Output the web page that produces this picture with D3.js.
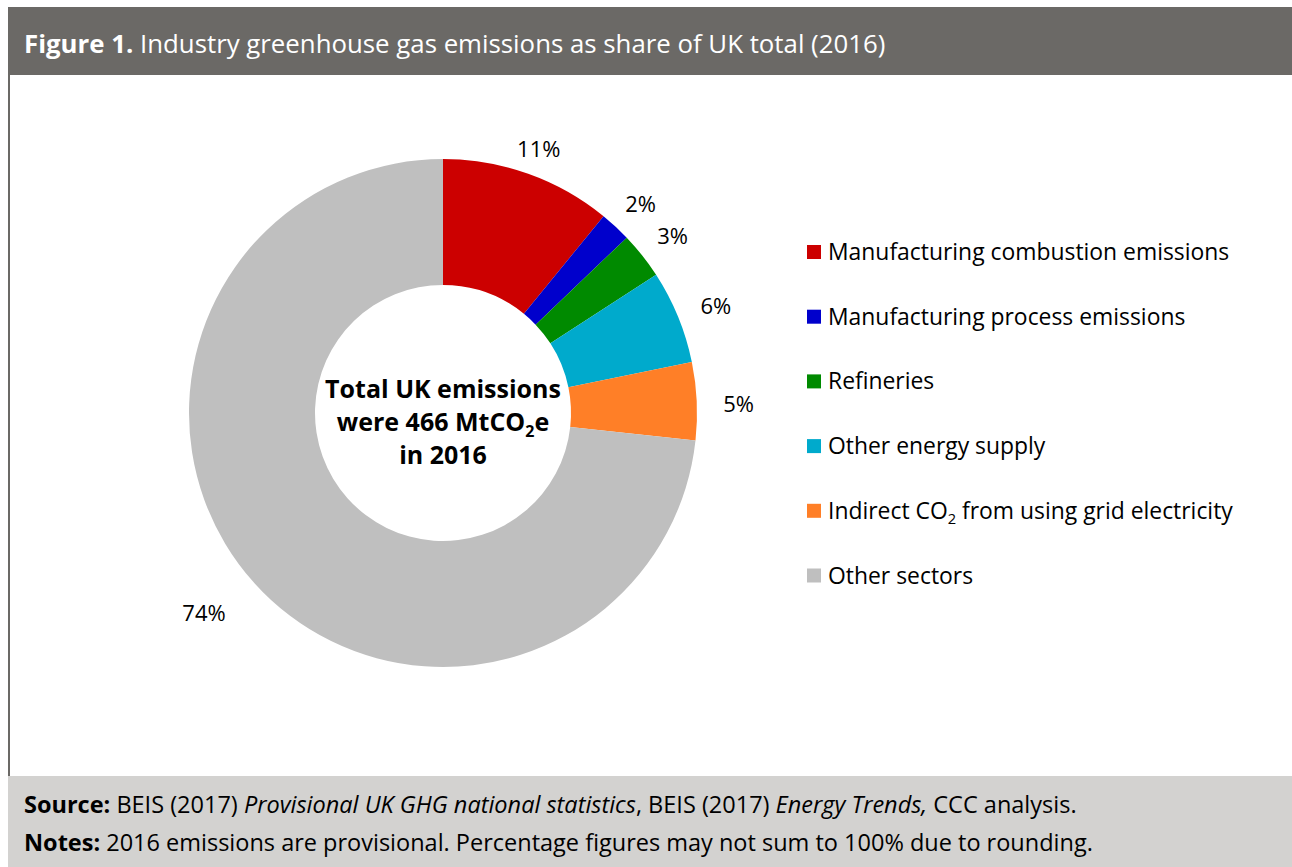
<!DOCTYPE html>
<html>
<head>
<meta charset="utf-8">
<script src="https://cdn.jsdelivr.net/npm/d3@7"></script>
<style>
  body { margin: 0; background: #fff; }
  svg text { font-family: "Open Sans", "Noto Sans", sans-serif; }
</style>
</head>
<body>
<svg id="chart" width="1292" height="867"></svg>
<script>
// Sector shares of total UK greenhouse gas emissions, 2016 (%)
const categories = [
  "Manufacturing combustion emissions",
  "Manufacturing process emissions",
  "Refineries",
  "Other energy supply",
  "Indirect CO2 from using grid electricity",
  "Other sectors"
];
const shares = [11, 2, 3, 6, 5, 74];
const sliceColors = ["#cc0000", "#0000cc", "#008a00", "#00aacc", "#ff7f27", "#bfbfbf"];

const titleBold = "Figure 1.";
const titleRest = " Industry greenhouse gas emissions as share of UK total (2016)";
const centreLines = ["Total UK emissions", "were 466 MtCO2e", "in 2016"];
const sourceLine = [
  { t: "Source:", s: "bold" }, { t: " BEIS (2017) ", s: "normal" },
  { t: "Provisional UK GHG national statistics", s: "italic" }, { t: ", BEIS (2017) ", s: "normal" },
  { t: "Energy Trends,", s: "italic" }, { t: " CCC analysis.", s: "normal" }
];
const notesLine = [
  { t: "Notes:", s: "bold" },
  { t: " 2016 emissions are provisional. Percentage figures may not sum to 100% due to rounding.", s: "normal" }
];

const svg = d3.select("#chart");
const W = 1292, H = 867;

// Frame: header bar, left rule, footer panel
svg.append("rect").attr("x", 8).attr("y", 7).attr("width", W - 8).attr("height", 68).attr("fill", "#6b6966");
svg.append("rect").attr("x", 8).attr("y", 75).attr("width", 2).attr("height", 701).attr("fill", "#6b6966");
svg.append("rect").attr("x", 8).attr("y", 776).attr("width", W - 8).attr("height", H - 776).attr("fill", "#d3d2d0");

const title = svg.append("text").attr("x", 24).attr("y", 53).attr("fill", "#fff").attr("font-size", 25.8);
title.append("tspan").attr("font-weight", "bold").text(titleBold);
title.append("tspan").text(titleRest);

// Writes a string into a text element, setting "CO2" as CO with a subscript 2
function withSubscript(sel, str, size) {
  const shift = size * 0.24;
  const parts = str.split("CO2");
  parts.forEach((p, i) => {
    const t = sel.append("tspan").text(i < parts.length - 1 ? p + "CO" : p);
    if (i > 0) t.attr("dy", -shift);
    if (i < parts.length - 1) {
      sel.append("tspan").attr("font-size", size * 0.64).attr("dy", shift).text("2");
    }
  });
}

// Donut
const cx = 443, cy = 413, rOuter = 254, rInner = 128;
const pie = d3.pie().sort(null).value(d => d);
const arcs = pie(shares);
const arc = d3.arc().innerRadius(rInner).outerRadius(rOuter);

const g = svg.append("g").attr("transform", `translate(${cx},${cy})`);
g.selectAll("path.slice").data(arcs).join("path")
  .attr("class", "slice")
  .attr("d", arc)
  .attr("fill", (d, i) => sliceColors[i]);

// Percentage labels placed outside the ring
const pctFmt = v => v + "%";
const midAngle = d => (d.startAngle + d.endAngle) / 2;
const labelRadius = d => 280 + 16 * Math.abs(Math.sin(midAngle(d)));
g.selectAll("text.pct").data(arcs).join("text")
  .attr("class", "pct")
  .attr("text-anchor", d => Math.sin(midAngle(d)) < -0.5 ? "end" : "middle")
  .attr("dy", "0.35em")
  .attr("font-size", 22)
  .attr("fill", "#000")
  .attr("x", d => labelRadius(d) * Math.sin(midAngle(d)))
  .attr("y", d => -labelRadius(d) * Math.cos(midAngle(d)) + 5)
  .text(d => pctFmt(d.value));

// Centre caption
const centre = svg.append("text").attr("text-anchor", "middle").attr("font-weight", "bold").attr("font-size", 25).attr("fill", "#000");
centreLines.forEach((line, i) => {
  const t = centre.append("tspan").attr("x", cx).attr("y", 398 + i * 33);
  if (line.includes("CO2")) {
    const parts = line.split("CO2");
    t.text(parts[0] + "CO");
    centre.append("tspan").attr("font-size", 16).attr("dy", 6).text("2");
    centre.append("tspan").attr("dy", -6).text(parts[1]);
  } else {
    t.text(line);
  }
});

// Legend
const legend = svg.append("g").attr("transform", "translate(807,245)");
const rows = legend.selectAll("g").data(categories).join("g")
  .attr("transform", (d, i) => `translate(0,${i * 64.7})`);
rows.append("rect").attr("width", 14).attr("height", 14).attr("fill", (d, i) => sliceColors[i]);
rows.append("text").attr("x", 21).attr("y", 15).attr("font-size", 22.9).attr("fill", "#000")
  .each(function (d) { withSubscript(d3.select(this), d, 22.9); });

// Footer notes
function richLine(parts, y) {
  const t = svg.append("text").attr("x", 24).attr("y", y).attr("font-size", 23.5).attr("fill", "#000");
  parts.forEach(p => {
    const s = t.append("tspan").text(p.t);
    if (p.s === "bold") s.attr("font-weight", "bold");
    if (p.s === "italic") s.attr("font-style", "italic");
  });
}
richLine(sourceLine, 813);
richLine(notesLine, 851);
</script>
</body>
</html>
